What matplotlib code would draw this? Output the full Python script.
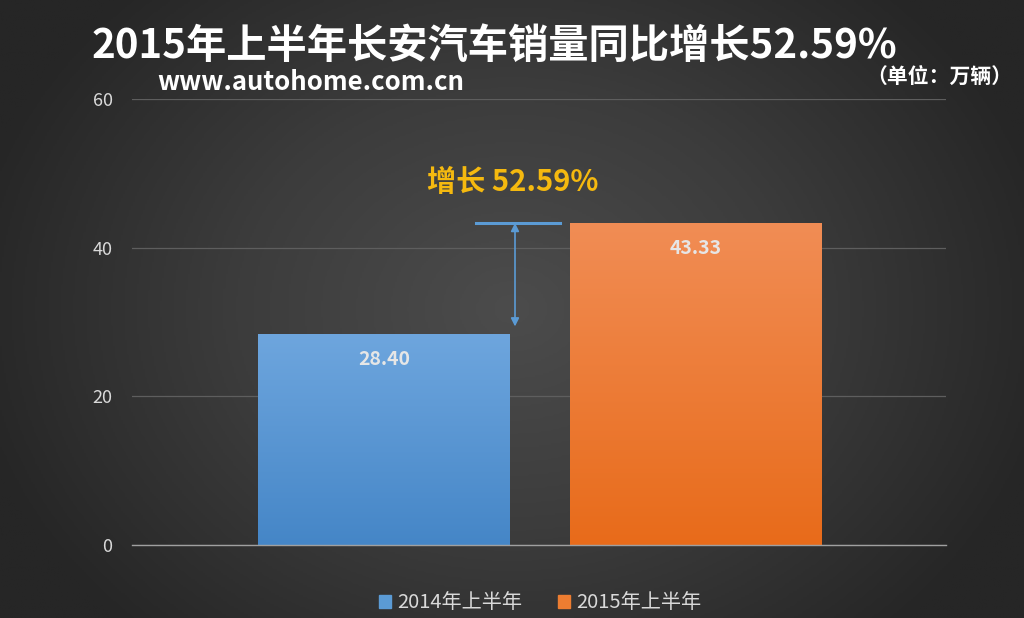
import numpy as np
import matplotlib
matplotlib.use("Agg")
import matplotlib.pyplot as plt
from matplotlib.colors import LinearSegmentedColormap

plt.rcParams['font.family'] = ['Noto Sans CJK SC', 'DejaVu Sans']

# ---- data ----
series = ["2014年上半年", "2015年上半年"]
values = [28.40, 43.33]
value_labels = ["28.40", "43.33"]
yticks = [0, 20, 40, 60]
growth_label = "增长 52.59%"
title = "2015年上半年长安汽车销量同比增长52.59%"
source = "www.autohome.com.cn"
unit = "（单位：万辆）"

top_colors = ["#6ea6de", "#f18d55"]
bot_colors = ["#4586c7", "#e86b1a"]

fig = plt.figure(figsize=(10.24, 6.18), dpi=100)

# background gradient
bg = fig.add_axes([0, 0, 1, 1], zorder=-10)
bg.set_axis_off()
yy, xx = np.mgrid[0:1:300j, 0:1:500j]
d = np.sqrt(((xx - 0.5) / 0.75) ** 2 + ((yy - 0.5) / 1.0) ** 2)
d = np.clip(d / 0.72, 0, 1)
bgcmap = LinearSegmentedColormap.from_list("bg", ["#4c4c4c", "#3c3c3c", "#262626"])
bg.imshow(d, cmap=bgcmap, aspect="auto", extent=[0, 1, 0, 1], origin="lower", vmin=0, vmax=1)
bg.set_xlim(0, 1); bg.set_ylim(0, 1)

ax = fig.add_axes([132 / 1024, 1 - 545 / 618, 814 / 1024, 446 / 618])
ax.patch.set_alpha(0)
ax.set_xlim(0, 1)
ax.set_ylim(0, 60)

centers = [0.3096, 0.692]
width = 0.309
bars = ax.bar(centers, values, width=width, color=top_colors, zorder=3, edgecolor="none")
for b, tc, bc in zip(bars, top_colors, bot_colors):
    cm = LinearSegmentedColormap.from_list("g", [bc, tc])
    x0, y0 = b.get_x(), b.get_y()
    w, h = b.get_width(), b.get_height()
    grad = np.linspace(0, 1, 256).reshape(-1, 1)
    im = ax.imshow(grad, cmap=cm, aspect="auto", origin="lower",
                   extent=[x0, x0 + w, y0, y0 + h], zorder=3.5)
    im.set_clip_path(b)
ax.set_xlim(0, 1)
ax.set_ylim(0, 60)

for c, v, lab in zip(centers, values, value_labels):
    ax.text(c, v - 3.4, lab, ha="center", va="center", color="#e6e6e6",
            fontsize=14, fontweight="bold", zorder=5)

# grid and axes
ax.set_yticks(yticks)
ax.yaxis.grid(True, color="#5e5e5e", linewidth=0.9, zorder=0)
ax.set_axisbelow(True)
for s in ["top", "right", "left"]:
    ax.spines[s].set_visible(False)
ax.spines["bottom"].set_color("#a0a0a0")
ax.spines["bottom"].set_linewidth(1.0)
ax.spines["bottom"].set_zorder(6)
ax.set_xticks([])
ax.tick_params(axis="y", length=0, labelsize=13, labelcolor="#d9d9d9", pad=14)

# growth annotation
x_line0 = (476 - 132) / 814
x_line1 = (560 - 132) / 814
x_arrow = (515 - 132) / 814
ax.plot([x_line0, x_line1], [values[1], values[1]], color="#5b9bd5", lw=2.2, zorder=4)
ax.annotate("", xy=(x_arrow, values[0] + 1.0), xytext=(x_arrow, values[1]),
            arrowprops=dict(arrowstyle="<|-|>", color="#5b9bd5", lw=1.2,
                            mutation_scale=12, shrinkA=0, shrinkB=0), zorder=4)
ax.text((513 - 132) / 814, 48.8, growth_label, ha="center", va="center",
        color="#f5b90f", fontsize=21, fontweight="bold", fontstyle="italic", zorder=5)

# legend
handles = [plt.Rectangle((0, 0), 1, 1, color=c) for c in ["#5b9bd5", "#ed7d31"]]
fig.legend(handles, series, loc="center", bbox_to_anchor=(540 / 1024, 1 - 603 / 618),
           ncol=2, frameon=False, fontsize=14.5, labelcolor="#d9d9d9",
           handlelength=0.6, handleheight=0.6, handletextpad=0.3, columnspacing=1.8)

# titles
fig.text(92 / 1024, 1 - 46 / 618, title, ha="left", va="center", color="white",
         fontsize=29, fontweight="bold")
fig.text(157 / 1024, 1 - 83 / 618, source, ha="left", va="center", color="white",
         fontsize=18.5, fontweight="bold")
fig.text(1012 / 1024, 1 - 76 / 618, unit, ha="right", va="center", color="white",
         fontsize=15, fontweight="bold")

fig.savefig("out.png", dpi=100)
